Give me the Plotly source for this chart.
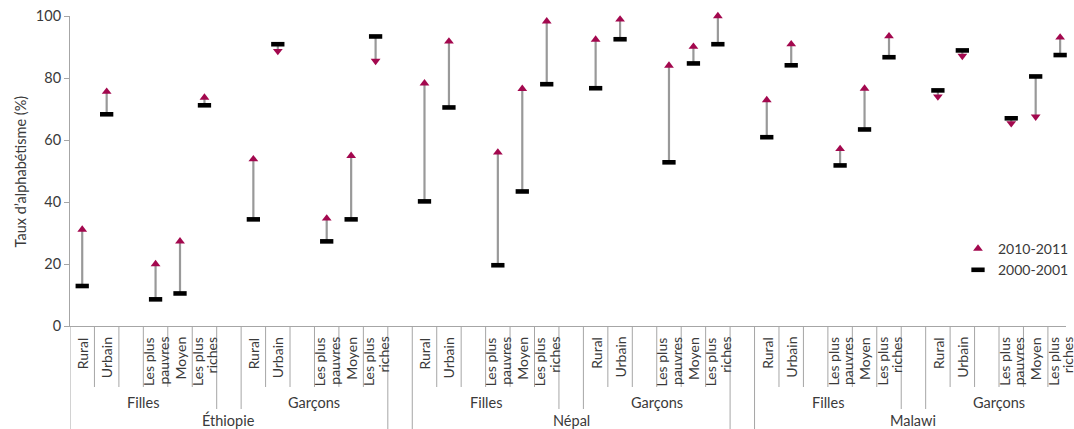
import plotly.graph_objects as go

# Category labels
sub_labels = ["Rural", "Urbain", "Les plus<br>pauvres", "Moyen", "Les plus<br>riches"]
sex_labels = ["Filles", "Garçons"]
country_labels = ["Éthiopie", "Népal", "Malawi"]

# Literacy rate (%) — order: Filles (Rural, Urbain, pauvres, Moyen, riches), then Garçons
ethiopie_2000 = [12.9, 68.3, 8.6, 10.5, 71.2, 34.4, 90.9, 27.3, 34.4, 93.4]
ethiopie_2010 = [31.1, 75.6, 20.0, 27.3, 73.7, 53.8, 88.7, 34.7, 54.9, 85.5]
nepal_2000 = [40.2, 70.5, 19.6, 43.4, 78.0, 76.7, 92.5, 52.8, 84.7, 90.9]
nepal_2010 = [78.3, 91.8, 56.0, 76.5, 98.3, 92.4, 98.9, 84.0, 90.1, 100.0]
malawi_2000 = [60.9, 84.1, 51.8, 63.4, 86.7, 76.0, 88.9, 67.0, 80.5, 87.4]
malawi_2010 = [72.9, 90.9, 57.1, 76.6, 93.5, 74.0, 87.1, 65.4, 67.5, 93.1]

series_2000 = [ethiopie_2000, nepal_2000, malawi_2000]
series_2010 = [ethiopie_2010, nepal_2010, malawi_2010]

# Slot layout on the category axis: 13 slots per country plus a spacer slot,
# with a blank slot inside each sex group and between the two sex groups.
SUB_POS = [0, 1, 3, 4, 5]
SEX_SPAN = 7
COUNTRY_SPAN = 14

TEXT = "#3a3a3a"
GRID = "#a6a6a6"
RED = "#A3084E"
FONT = "Lato"

xs, v00, v10, labels = [], [], [], []
for c in range(len(country_labels)):
    for s in range(len(sex_labels)):
        for j in range(len(sub_labels)):
            k = s * len(sub_labels) + j
            xs.append(c * COUNTRY_SPAN + s * SEX_SPAN + SUB_POS[j])
            v00.append(series_2000[c][k])
            v10.append(series_2010[c][k])
            labels.append(sub_labels[j])

symbols = ["triangle-up" if b >= a else "triangle-down" for a, b in zip(v00, v10)]

line_x, line_y = [], []
for x, a, b in zip(xs, v00, v10):
    line_x += [x, x, None]
    line_y += [a, b, None]

fig = go.Figure()
fig.add_trace(go.Scatter(
    x=line_x, y=line_y, mode="lines",
    line=dict(color="#999999", width=2.2),
    showlegend=False, hoverinfo="skip", cliponaxis=False,
))
fig.add_trace(go.Scatter(
    x=xs, y=v00, mode="markers", name="2000-2001", legendrank=2,
    marker=dict(symbol="line-ew", size=9.5, line=dict(color="black", width=4.6)),
    cliponaxis=False,
))
fig.add_trace(go.Scatter(
    x=xs, y=v10, mode="markers", name="2010-2011", legendrank=1,
    marker=dict(symbol=symbols, size=8.5, color=RED, line=dict(width=0)),
    cliponaxis=False,
))

# Paper-y positions below the plot (plot height 310 px)
PLOT_H = 310.0
def py(px_below):
    return -px_below / PLOT_H

SHORT, MEDIUM, FULL = py(61), py(83), py(110)

n_slots = 3 * COUNTRY_SPAN - 1
shapes = []
for b in range(n_slots + 1):
    pos_in_country = b % COUNTRY_SPAN
    if pos_in_country in (0, 13):
        end = FULL
    elif pos_in_country in (6, 7):
        end = MEDIUM
    else:
        end = SHORT
    shapes.append(dict(
        type="line", xref="x", yref="paper",
        x0=b - 0.5, x1=b - 0.5, y0=0, y1=end,
        line=dict(color=GRID, width=1),
    ))

annotations = []
# Rotated sub-group labels, two-line labels split into two columns
for x, lab in zip(xs, labels):
    parts = lab.split("<br>")
    shifts = [0] if len(parts) == 1 else [-7, 7]
    for part, dx in zip(parts, shifts):
        annotations.append(dict(
            x=x, xshift=dx, y=py(9), xref="x", yref="paper",
            text=part, textangle=-90, showarrow=False,
            xanchor="center", yanchor="top",
            font=dict(family=FONT, size=14, color=TEXT),
        ))

# Sex group labels and country labels
for c, cname in enumerate(country_labels):
    base = c * COUNTRY_SPAN
    for s, sname in enumerate(sex_labels):
        first = base + s * SEX_SPAN
        last = first + SUB_POS[-1]
        annotations.append(dict(
            x=(first + last) / 2, y=py(76), xref="x", yref="paper",
            text=sname, showarrow=False, xanchor="center", yanchor="middle",
            font=dict(family=FONT, size=14.5, color=TEXT),
        ))
    annotations.append(dict(
        x=base + 6, y=py(94), xref="x", yref="paper",
        text=cname, showarrow=False, xanchor="center", yanchor="middle",
        font=dict(family=FONT, size=14.5, color=TEXT),
    ))

annotations.append(dict(
    x=-50 / 1004, y=0.5, xref="paper", yref="paper",
    text="Taux d’alphabétisme (%)", textangle=-90, showarrow=False,
    xanchor="center", yanchor="middle",
    font=dict(family=FONT, size=14.5, color=TEXT),
))

fig.update_layout(
    width=1074, height=429,
    margin=dict(l=70, r=0, t=16, b=103),
    paper_bgcolor="white", plot_bgcolor="white",
    font=dict(family=FONT, size=14, color=TEXT),
    shapes=shapes, annotations=annotations,
    legend=dict(
        x=0.892, y=0.2145, xanchor="left", yanchor="middle",
        font=dict(family=FONT, size=14, color=TEXT),
        bgcolor="rgba(0,0,0,0)",
    ),
    xaxis=dict(
        range=[-0.5, 40.24], showgrid=False, zeroline=False,
        showticklabels=False, ticks="",
        showline=True, linecolor=GRID, linewidth=1,
    ),
    yaxis=dict(
        range=[0, 100], dtick=20, showgrid=False, zeroline=False,
        showline=True, linecolor=GRID, linewidth=1,
        ticks="outside", ticklen=5, tickcolor=GRID,
        tickfont=dict(family=FONT, size=14.5, color=TEXT),
    ),
)

fig.write_html("out.html")
